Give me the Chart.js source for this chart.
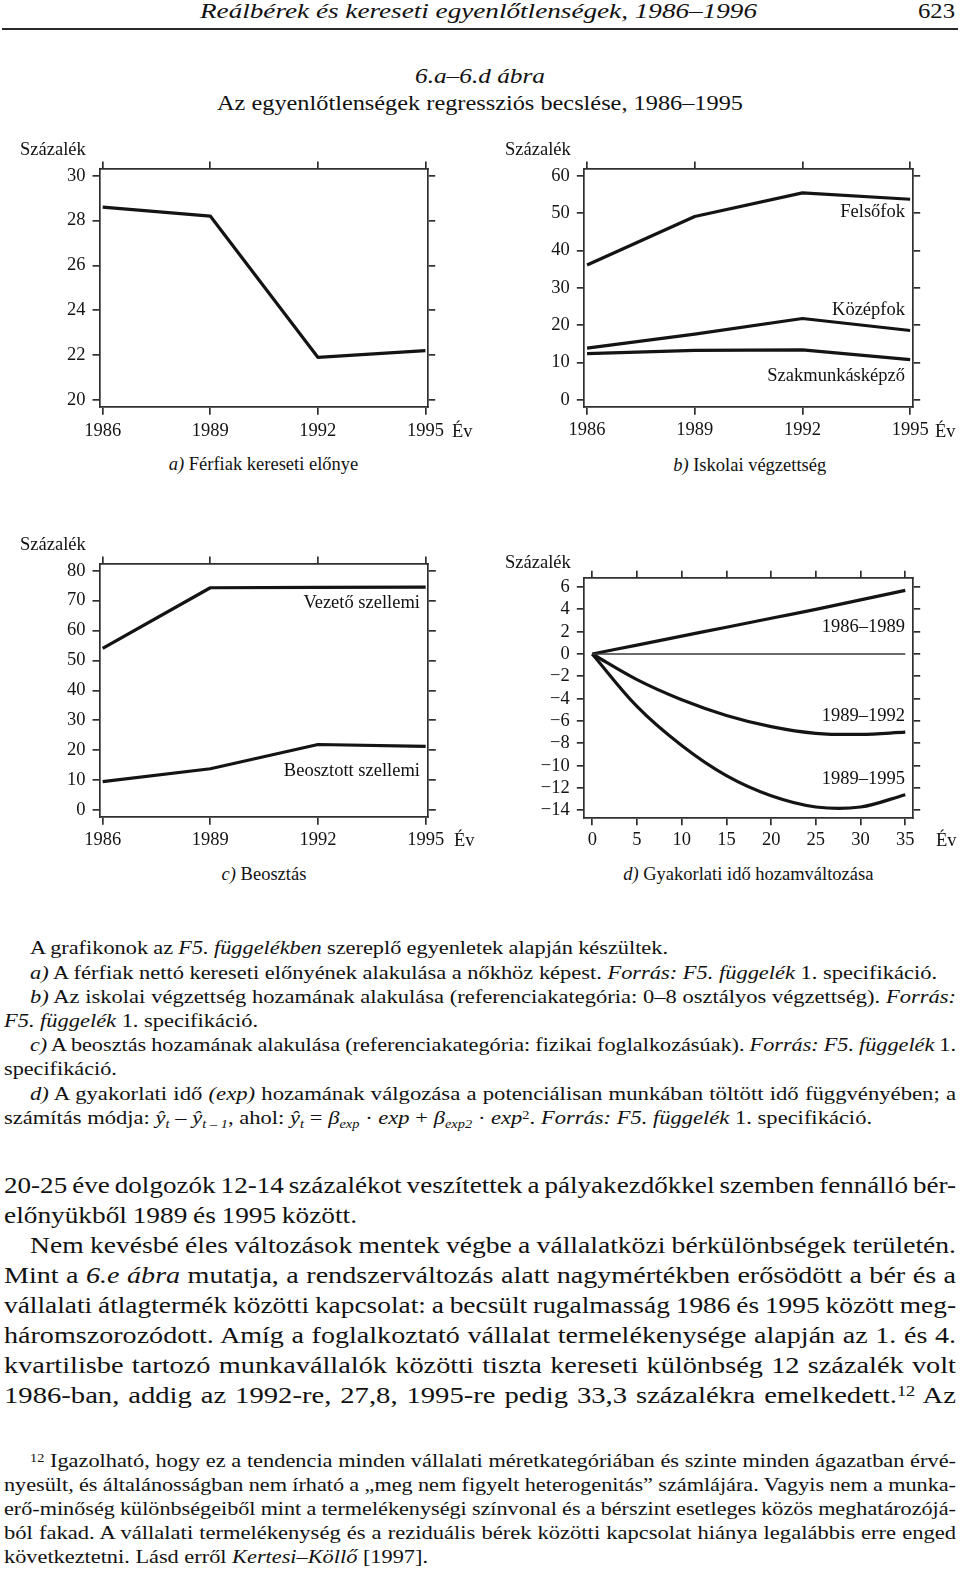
<!DOCTYPE html>
<html><head><meta charset="utf-8">
<script src="https://cdn.jsdelivr.net/npm/chart.js@4.4.1/dist/chart.umd.min.js"></script>
<style>
html,body{margin:0;padding:0;background:#fff;}
body{width:960px;height:1571px;position:relative;overflow:hidden;}
.t{position:absolute;white-space:nowrap;line-height:1;font-family:'Liberation Serif','Times New Roman',serif;color:#111;transform-origin:0 50%;}
.t sub,.t sup{line-height:0;font-size:64%;}
.t sub{vertical-align:-0.32em;}
.t sup{vertical-align:0.45em;}
canvas{position:absolute;}
.rule{position:absolute;left:2px;top:28px;width:956px;height:2px;background:#2a2a2a;}
</style>
</head><body>
<div class="rule"></div>

<div class="t" data-x="200" data-b="18.5" data-fs="22" data-w="557"><i>Reálbérek és kereseti egyenlőtlenségek, 1986–1996</i></div>
<div class="t" data-x="918" data-b="18.5" data-fs="22" data-w="37">623</div>
<div class="t" data-x="415" data-b="83.5" data-fs="20.5" data-w="130"><i>6.a–6.d ábra</i></div>
<div class="t" data-x="217" data-b="110" data-fs="20.5" data-w="526">Az egyenlőtlenségek regressziós becslése, 1986–1995</div>

<canvas id="ca"></canvas>
<canvas id="cb"></canvas>
<canvas id="cc"></canvas>
<canvas id="cd"></canvas>

<!-- chart texts -->
<div class="t" data-x="20" data-b="155">Százalék</div>
<div class="t" data-x="505" data-b="155">Százalék</div>
<div class="t" data-x="20" data-b="550">Százalék</div>
<div class="t" data-x="505" data-b="568.3">Százalék</div>
<div class="t" data-x="452" data-b="437.3">Év</div>
<div class="t" data-x="935" data-b="437.3">Év</div>
<div class="t" data-x="454" data-b="846.7">Év</div>
<div class="t" data-x="936" data-b="846.7">Év</div>
<div class="t" data-c="263.5" data-b="470.7"><i>a)</i> Férfiak kereseti előnye</div>
<div class="t" data-c="749.7" data-b="471.7"><i>b)</i> Iskolai végzettség</div>
<div class="t" data-c="264" data-b="880"><i>c)</i> Beosztás</div>
<div class="t" data-c="748.3" data-b="880"><i>d)</i> Gyakorlati idő hozamváltozása</div>
<div class="t" data-r="905" data-b="217.3">Felsőfok</div>
<div class="t" data-r="905" data-b="315">Középfok</div>
<div class="t" data-r="905" data-b="381.7">Szakmunkásképző</div>
<div class="t" data-r="420" data-b="608.3">Vezető szellemi</div>
<div class="t" data-r="420" data-b="776.7">Beosztott szellemi</div>
<div class="t" data-r="905" data-b="632.3">1986–1989</div>
<div class="t" data-r="905" data-b="721.7">1989–1992</div>
<div class="t" data-r="905" data-b="784.3">1989–1995</div>

<!-- figure notes -->
<div class="t" data-g="cap" data-x="30" data-b="954.3" data-fs="19" data-w="638">A grafikonok az <i>F5. függelékben</i> szereplő egyenletek alapján készültek.</div>
<div class="t" data-g="cap" data-x="30" data-b="978.5" data-fs="19" data-w="907"><i>a)</i> A férfiak nettó kereseti előnyének alakulása a nőkhöz képest. <i>Forrás: F5. függelék</i> 1. specifikáció.</div>
<div class="t" data-g="cap" data-x="30" data-b="1002.7" data-fs="19" data-w="926"><i>b)</i> Az iskolai végzettség hozamának alakulása (referenciakategória: 0–8 osztályos végzettség). <i>Forrás:</i></div>
<div class="t" data-g="cap" data-x="4" data-b="1026.9" data-fs="19" data-w="254"><i>F5. függelék</i> 1. specifikáció.</div>
<div class="t" data-g="cap" data-x="30" data-b="1051" data-fs="19" data-w="926"><i>c)</i> A beosztás hozamának alakulása (referenciakategória: fizikai foglalkozásúak). <i>Forrás: F5. függelék</i> 1.</div>
<div class="t" data-g="cap" data-x="4" data-b="1075.2" data-fs="19" data-w="112">specifikáció.</div>
<div class="t" data-g="cap" data-x="30" data-b="1099.6" data-fs="19" data-w="926"><i>d)</i> A gyakorlati idő <i>(exp)</i> hozamának válgozása a potenciálisan munkában töltött idő függvényében; a</div>
<div class="t" data-g="cap" data-x="4" data-b="1124" data-fs="19" data-w="868">számítás módja: <i>ŷ<sub>t</sub></i> – <i>ŷ<sub>t – 1</sub></i>, ahol: <i>ŷ<sub>t</sub></i> = <i>β<sub>exp</sub></i> · <i>exp</i> + <i>β<sub>exp2</sub></i> · <i>exp</i><sup>2</sup>. <i>Forrás: F5. függelék</i> 1. specifikáció.</div>

<!-- body -->
<div class="t" data-g="body" data-x="4" data-b="1193.5" data-fs="23.5" data-w="952">20-25 éve dolgozók 12-14 százalékot veszítettek a pályakezdőkkel szemben fennálló bér-</div>
<div class="t" data-g="body" data-x="4" data-b="1223.5" data-fs="23.5" data-w="353">előnyükből 1989 és 1995 között.</div>
<div class="t" data-g="body" data-x="30" data-b="1253.5" data-fs="23.5" data-w="926">Nem kevésbé éles változások mentek végbe a vállalatközi bérkülönbségek területén.</div>
<div class="t" data-g="body" data-x="4" data-b="1283.5" data-fs="23.5" data-w="952">Mint a <i>6.e ábra</i> mutatja, a rendszerváltozás alatt nagymértékben erősödött a bér és a</div>
<div class="t" data-g="body" data-x="4" data-b="1313.5" data-fs="23.5" data-w="952">vállalati átlagtermék közötti kapcsolat: a becsült rugalmasság 1986 és 1995 között meg-</div>
<div class="t" data-g="body" data-x="4" data-b="1343.5" data-fs="23.5" data-w="952">háromszorozódott. Amíg a foglalkoztató vállalat termelékenysége alapján az 1. és 4.</div>
<div class="t" data-g="body" data-x="4" data-b="1373.5" data-fs="23.5" data-w="952">kvartilisbe tartozó munkavállalók közötti tiszta kereseti különbség 12 százalék volt</div>
<div class="t" data-g="body" data-x="4" data-b="1403.5" data-fs="23.5" data-w="952">1986-ban, addig az 1992-re, 27,8, 1995-re pedig 33,3 százalékra emelkedett.<sup>12</sup> Az</div>

<!-- footnote -->
<div class="t" data-g="foot" data-x="30" data-b="1466.5" data-fs="19" data-w="926"><sup>12</sup> Igazolható, hogy ez a tendencia minden vállalati méretkategóriában és szinte minden ágazatban érvé-</div>
<div class="t" data-g="foot" data-x="4" data-b="1490.5" data-fs="19" data-w="952">nyesült, és általánosságban nem írható a „meg nem figyelt heterogenitás” számlájára. Vagyis nem a munka-</div>
<div class="t" data-g="foot" data-x="4" data-b="1514.5" data-fs="19" data-w="952">erő-minőség különbségeiből mint a termelékenységi színvonal és a bérszint esetleges közös meghatározójá-</div>
<div class="t" data-g="foot" data-x="4" data-b="1538.5" data-fs="19" data-w="952">ból fakad. A vállalati termelékenység és a reziduális bérek közötti kapcsolat hiánya legalábbis erre enged</div>
<div class="t" data-g="foot" data-x="4" data-b="1562.5" data-fs="19" data-w="424">következtetni. Lásd erről <i>Kertesi–Köllő</i> [1997].</div>

<script>
// ---------- data ----------
const years = [1986, 1989, 1992, 1995];
const yearTicks = [1986, 1989, 1992, 1995];

const maleAdvantage = [28.6, 28.2, 21.9, 22.2];
const aTicks = [20, 22, 24, 26, 28, 30];

const higherEdu = [36.1, 49.1, 55.4, 53.7];
const secondaryEdu = [13.9, 17.6, 21.8, 18.6];
const vocationalEdu = [12.4, 13.3, 13.4, 10.8];
const bTicks = [0, 10, 20, 30, 40, 50, 60];

const managerial = [54.0, 74.3, 74.4, 74.5];
const clerical = [9.5, 13.8, 21.9, 21.3];
const cTicks = [0, 10, 20, 30, 40, 50, 60, 70, 80];

const expYears = [0, 5, 10, 15, 20, 25, 30, 35];
const ret8689 = [0, 0.8, 1.6, 2.4, 3.2, 4.0, 4.85, 5.7];
const ret8992 = [0, -2.3, -4.1, -5.5, -6.5, -7.1, -7.2, -7.0];
const ret8995 = [0, -4.7, -8.2, -10.9, -12.7, -13.7, -13.7, -12.6];
const zeroLineX = [0, 35];
const zeroLineY = [0, 0];
const dTicksX = [0, 5, 10, 15, 20, 25, 30, 35];
const dTicksY = [6, 4, 2, 0, -2, -4, -6, -8, -10, -12, -14];

// ---------- text placement ----------
function placeText() {
  const els = Array.from(document.querySelectorAll('.t'));
  els.forEach(el => {
    const fs = +(el.dataset.fs || 18.5);
    el.style.fontSize = fs + 'px';
    el.style.transform = 'none';
    el.style.wordSpacing = '0px';
    el.style.top = (+el.dataset.b - 0.8375 * fs) + 'px';
    el.style.left = '0px';
    el._w0 = el.getBoundingClientRect().width;
  });
  // block stretch = total target width / total natural width
  const acc = {};
  els.forEach(el => {
    if (el.dataset.g) {
      const g = el.dataset.g;
      acc[g] = acc[g] || {sw: 0, sn: 0};
      acc[g].sw += +el.dataset.w; acc[g].sn += el._w0;
    }
  });
  const k = {};
  Object.keys(acc).forEach(g => { k[g] = acc[g].sw / acc[g].sn; });
  els.forEach(el => {
    let s = 1;
    if (el.dataset.g) {
      const W = +el.dataset.w;
      const kg = k[el.dataset.g];
      const r = W / (kg * el._w0);
      s = kg * Math.pow(r, 0.6);
      const spaces = (el.textContent.match(/ /g) || []).length;
      const ws = (W / s - el._w0) / Math.max(1, spaces);
      el.style.wordSpacing = ws + 'px';
    } else if (el.dataset.w) {
      s = +el.dataset.w / el._w0;
    }
    const wNat = el.getBoundingClientRect().width;
    const w = wNat * s;
    let left;
    if (el.dataset.x != null) left = +el.dataset.x;
    else if (el.dataset.r != null) left = +el.dataset.r - w;
    else left = +el.dataset.c - w / 2;
    el.style.left = left + 'px';
    if (s !== 1) el.style.transform = 'scaleX(' + s + ')';
  });
}
placeText();
if (document.fonts && document.fonts.ready) document.fonts.ready.then(placeText);

// ---------- charts ----------
const FONT = {family: "'Liberation Serif','Times New Roman',serif", size: 18.5};
const INK = '#141414';
const BOX = '#2f2f2f';
const BW = 1.7;
const TL = 7.5;

const pairs = (xs, ys) => xs.map((x, i) => ({x: x, y: ys[i]}));
const fmt = v => (v < 0 ? '\u2212' + Math.abs(v) : String(v));

function makeChart(id, g, datasets, xr, yr, xTicks, yTicks, xPad) {
  const cv = document.getElementById(id);
  cv.width = g.w; cv.height = g.h;
  cv.style.left = g.left + 'px'; cv.style.top = g.top + 'px';
  cv.style.width = g.w + 'px'; cv.style.height = g.h + 'px';
  const base = () => ({
    type: 'linear',
    border: {display: true, color: BOX, width: BW},
    grid: {drawOnChartArea: false, drawTicks: true, tickLength: TL, color: BOX, lineWidth: BW}
  });
  const setX = s => { s.ticks = xTicks.map(v => ({value: v})); };
  const setY = s => { s.ticks = yTicks.map(v => ({value: v})); };
  const x = Object.assign(base(), {
    axis: 'x', position: 'bottom', min: xr[0], max: xr[1], afterBuildTicks: setX,
    ticks: {display: true, font: FONT, color: INK, padding: xPad, maxRotation: 0, autoSkip: false, callback: v => String(v)},
    afterFit: s => { s.height = g.h - (g.aB - g.top); }
  });
  const x2 = Object.assign(base(), {
    axis: 'x', position: 'top', min: xr[0], max: xr[1], afterBuildTicks: setX,
    ticks: {display: false, autoSkip: false},
    afterFit: s => { s.height = g.aT - g.top; }
  });
  const y = Object.assign(base(), {
    axis: 'y', position: 'left', min: yr[0], max: yr[1], afterBuildTicks: setY,
    ticks: {display: true, font: FONT, color: INK, padding: 7, autoSkip: false, callback: v => fmt(v)},
    afterFit: s => { s.width = g.aL - g.left; }
  });
  const y2 = Object.assign(base(), {
    axis: 'y', position: 'right', min: yr[0], max: yr[1], afterBuildTicks: setY,
    ticks: {display: false, autoSkip: false},
    afterFit: s => { s.width = g.left + g.w - g.aR; }
  });
  return new Chart(cv, {
    type: 'line',
    data: {datasets: datasets},
    options: {
      responsive: false, devicePixelRatio: 1, animation: false,
      layout: {padding: 0},
      plugins: {legend: {display: false}, tooltip: {enabled: false}, title: {display: false}},
      elements: {point: {radius: 0, hoverRadius: 0}},
      scales: {x: x, x2: x2, y: y, y2: y2}
    }
  });
}

const lineDs = (xs, ys, extra) => Object.assign({
  data: pairs(xs, ys), borderColor: INK, borderWidth: 3.2, pointRadius: 0,
  fill: false, tension: 0, borderJoinStyle: 'round', borderCapStyle: 'butt'
}, extra || {});

makeChart('ca', {left: 0, top: 150, w: 480, h: 300, aL: 100, aR: 427.7, aT: 169, aB: 407.3},
  [lineDs(years, maleAdvantage)],
  [1985.926, 1995.064], [19.67, 30.3], yearTicks, aTicks, 5);

makeChart('cb', {left: 480, top: 150, w: 480, h: 300, aL: 584.3, aR: 912.7, aT: 169, aB: 407.3},
  [lineDs(years, higherEdu), lineDs(years, secondaryEdu), lineDs(years, vocationalEdu)],
  [1985.923, 1995.071], [-1.95, 61.79], yearTicks, bTicks, 4.5);

makeChart('cc', {left: 0, top: 545, w: 480, h: 310, aL: 100, aR: 428.3, aT: 564, aB: 817.3},
  [lineDs(years, managerial), lineDs(years, clerical)],
  [1985.926, 1995.073], [-2.44, 82.24], yearTicks, cTicks, 4);

makeChart('cd', {left: 480, top: 560, w: 480, h: 300, aL: 584.3, aR: 912.7, aT: 578.3, aB: 817.7},
  [lineDs(zeroLineX, zeroLineY, {borderWidth: 1.6, borderColor: '#3a3a3a'}),
   lineDs(expYears, ret8689, {tension: 0.35}),
   lineDs(expYears, ret8992, {tension: 0.35}),
   lineDs(expYears, ret8995, {tension: 0.35})],
  [-0.89, 35.83], [-14.66, 6.78], dTicksX, dTicksY, 3.7);
</script>
</body></html>
